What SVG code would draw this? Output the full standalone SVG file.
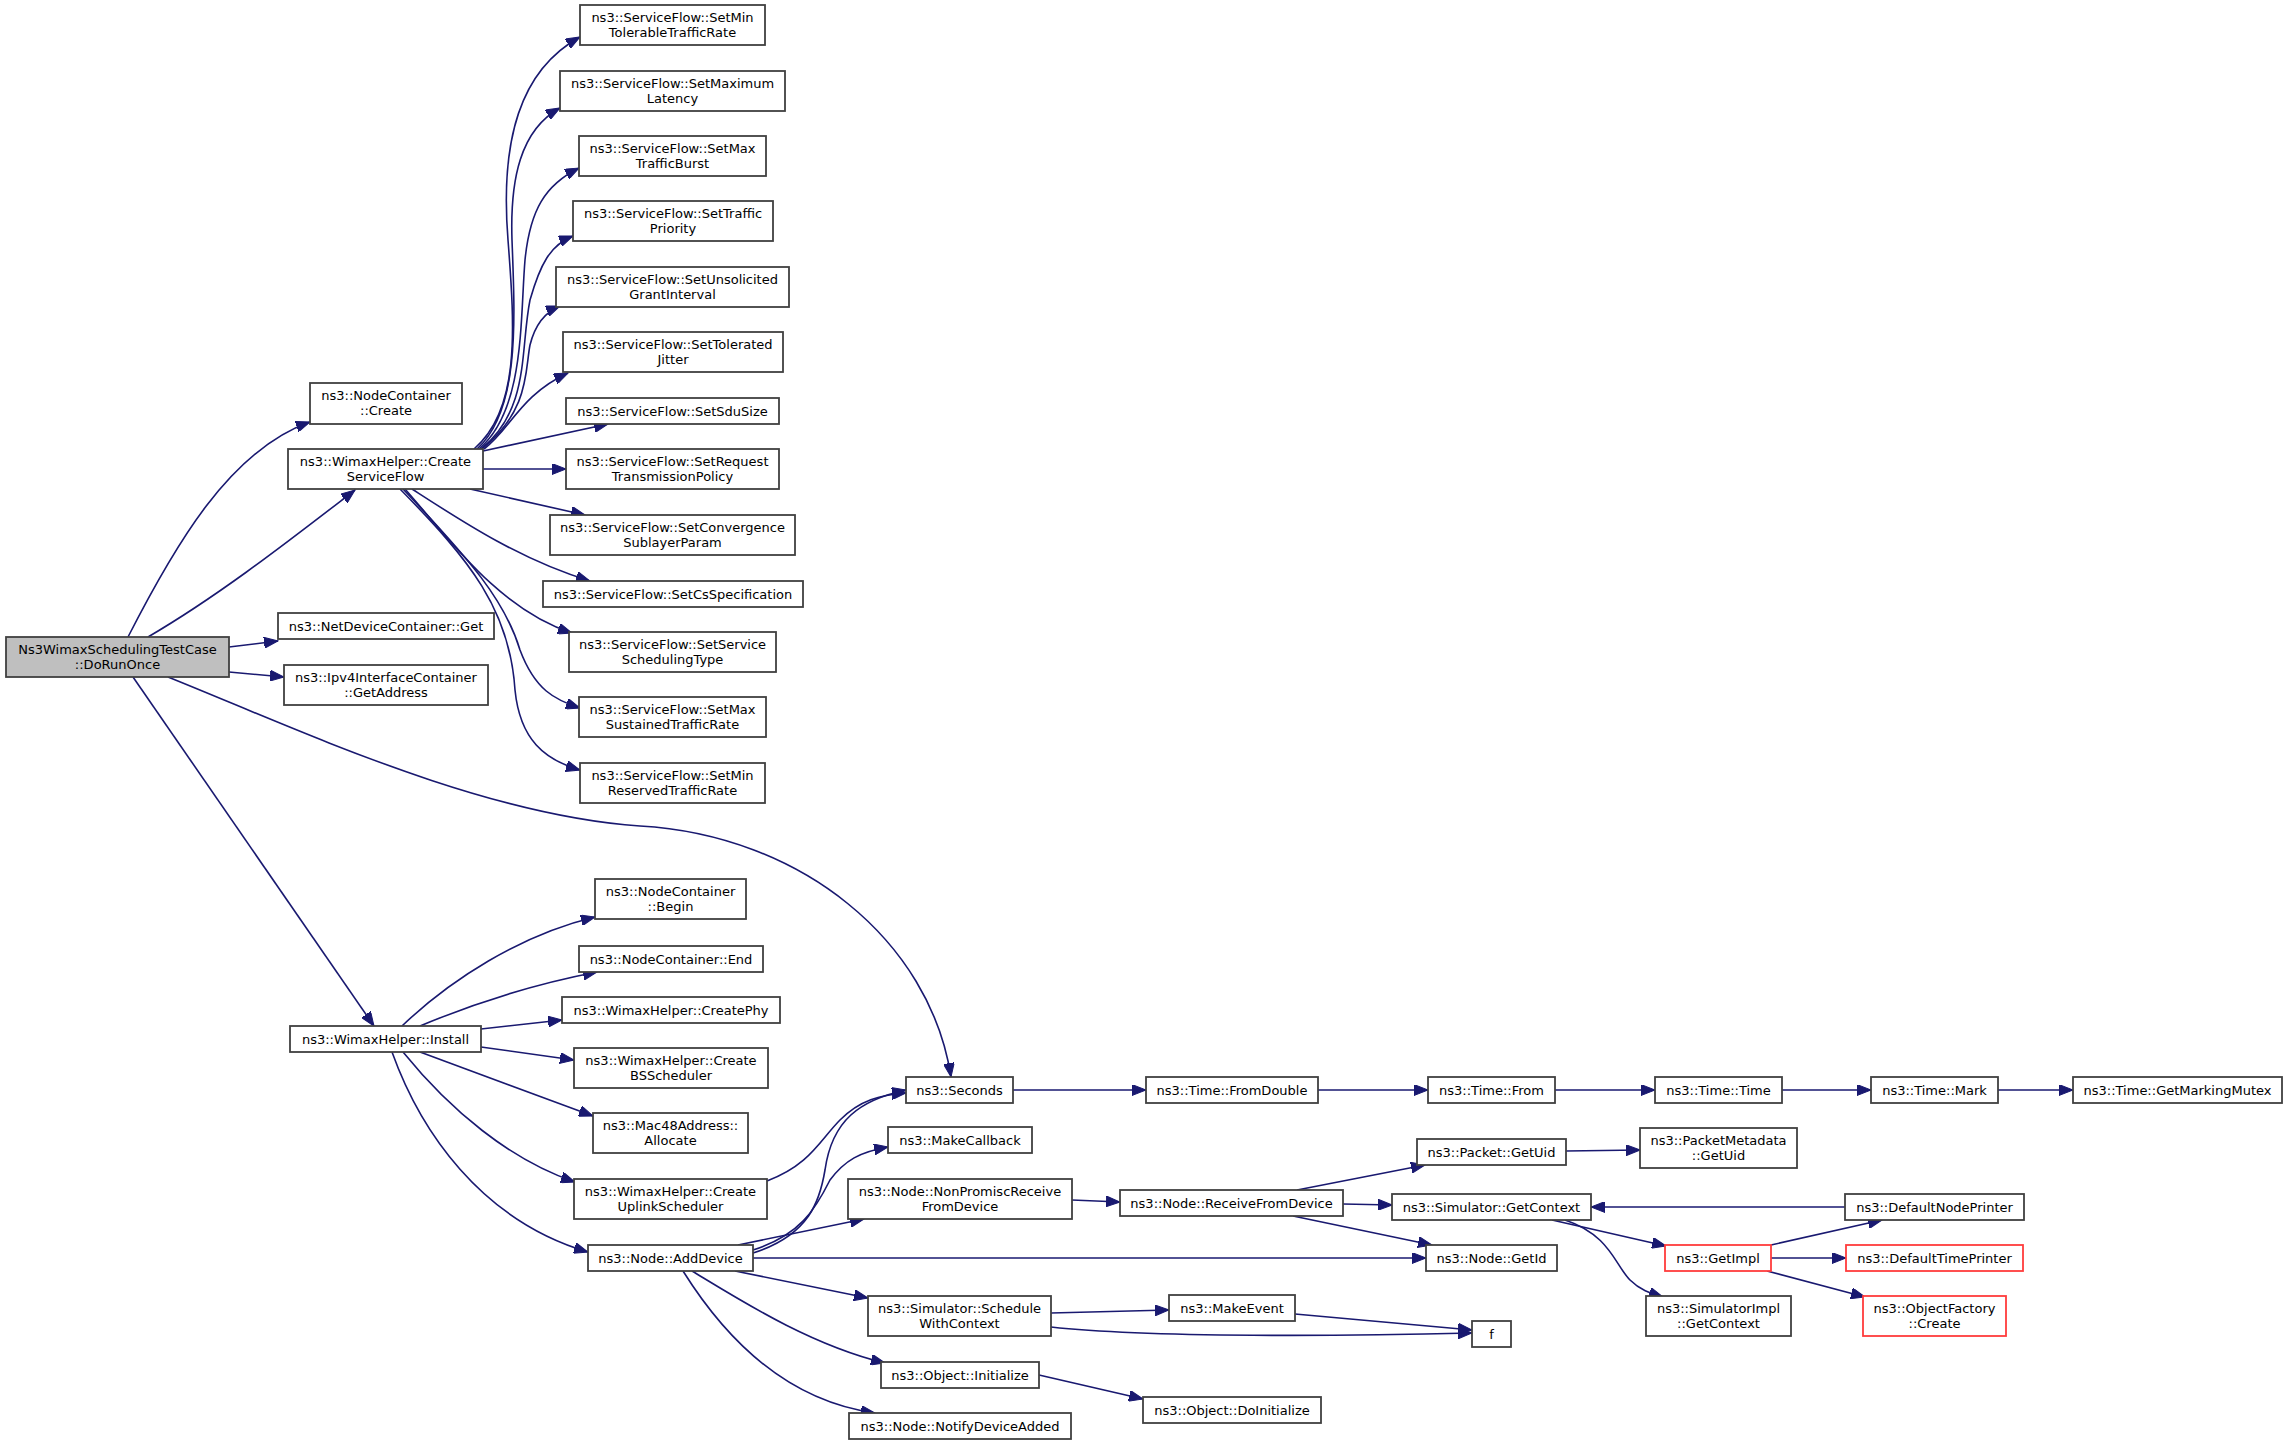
<svg xmlns="http://www.w3.org/2000/svg" width="2288" height="1444" viewBox="0 0 2288 1444">
<defs>
<style>
.n rect{fill:#ffffff;stroke:#404040;stroke-width:1.8}
.n.root rect{fill:#bfbfbf}
.n.red rect{stroke:#ff3c3c}
.n text{font-family:"DejaVu Sans","Liberation Sans",sans-serif;font-size:13px;text-anchor:middle;fill:#000}
#edges path{fill:none;stroke:#191970;stroke-width:1.6;marker-end:url(#arr)}
</style>
<marker id="arr" markerUnits="userSpaceOnUse" viewBox="0 0 15 11" markerWidth="15" markerHeight="11" refX="14" refY="5.5" orient="auto">
<path d="M0,0 L14,5.5 L0,11 z" fill="#191970" stroke="#191970" stroke-width="1"/>
</marker>
</defs>
<rect width="2288" height="1444" fill="#ffffff"/>
<g id="edges">
<path d="M128,637 C175,545 230,450 310,422"/>
<path d="M148,637 C220,595 290,540 355,490"/>
<path d="M229,647 L278,641"/>
<path d="M229,672 L284,677"/>
<path d="M168,677 C300,730 480,815 640,826 C800,835 930,940 951,1077"/>
<path d="M133,677 L374,1026"/>
<path d="M474,449 C520,410 515,330 508,240 C500,140 520,70 580,37"/>
<path d="M477,449 C520,410 515,320 512,240 C510,180 520,130 560,108"/>
<path d="M479,449 C525,410 520,320 525,260 C530,210 545,185 579,168"/>
<path d="M481,449 C530,410 520,350 530,300 C540,265 550,245 573,236"/>
<path d="M482,449 C530,410 525,370 530,345 C535,325 545,312 560,306"/>
<path d="M484,449 C510,430 520,395 568,373"/>
<path d="M483,451 L608,424"/>
<path d="M483,469 L566,469"/>
<path d="M470,489 L585,515"/>
<path d="M412,489 C460,520 520,560 590,581"/>
<path d="M405,489 C450,540 500,610 572,633"/>
<path d="M403,489 C470,560 505,600 520,650 C535,690 555,700 580,708"/>
<path d="M400,489 C470,560 510,610 515,690 C520,740 545,760 580,770"/>
<path d="M402,1026 C450,980 520,935 595,917"/>
<path d="M420,1026 C470,1005 530,985 597,972"/>
<path d="M481,1029 L562,1020"/>
<path d="M481,1047 L574,1060"/>
<path d="M420,1052 L593,1116"/>
<path d="M403,1052 C450,1110 510,1160 575,1182"/>
<path d="M392,1052 C420,1130 480,1220 588,1252"/>
<path d="M767,1181 C810,1165 820,1140 840,1120 C860,1100 880,1095 906,1093"/>
<path d="M753,1253 C810,1235 820,1200 825,1170 C832,1120 860,1100 906,1090"/>
<path d="M753,1250 C800,1235 815,1210 830,1180 C845,1160 860,1152 888,1147"/>
<path d="M738,1245 L864,1219"/>
<path d="M753,1258 L1426,1258"/>
<path d="M735,1271 L868,1298"/>
<path d="M692,1271 C740,1300 810,1345 885,1363"/>
<path d="M683,1271 C720,1330 780,1400 875,1413"/>
<path d="M1013,1090 L1146,1090"/>
<path d="M1318,1090 L1428,1090"/>
<path d="M1555,1090 L1655,1090"/>
<path d="M1782,1090 L1871,1090"/>
<path d="M1998,1090 L2073,1090"/>
<path d="M1072,1200 L1120,1202"/>
<path d="M1297,1190 L1425,1165"/>
<path d="M1343,1204 L1392,1205"/>
<path d="M1293,1216 L1432,1245"/>
<path d="M1566,1151 L1640,1150"/>
<path d="M1552,1220 L1666,1246"/>
<path d="M1565,1220 C1610,1235 1615,1265 1630,1280 C1640,1290 1650,1293 1663,1297"/>
<path d="M1845,1207 L1591,1207"/>
<path d="M1771,1245 L1882,1220"/>
<path d="M1771,1258 L1846,1258"/>
<path d="M1767,1271 L1865,1297"/>
<path d="M1051,1313 L1169,1310"/>
<path d="M1051,1327 C1150,1338 1350,1336 1472,1333"/>
<path d="M1295,1314 L1472,1330"/>
<path d="M1039,1375 L1143,1399"/>
</g>
<g id="n_root" class="n root"><rect x="6" y="637" width="223" height="40"/><text x="117.5" y="654">Ns3WimaxSchedulingTestCase</text><text x="117.5" y="669">::DoRunOnce</text></g>
<g id="n_nc_create" class="n"><rect x="310" y="383" width="152" height="41"/><text x="386" y="400">ns3::NodeContainer</text><text x="386" y="415">::Create</text></g>
<g id="n_csf" class="n"><rect x="288" y="449" width="195" height="40"/><text x="385.5" y="466">ns3::WimaxHelper::Create</text><text x="385.5" y="481">ServiceFlow</text></g>
<g id="n_ndc_get" class="n"><rect x="278" y="613" width="216" height="26"/><text x="386" y="630.5">ns3::NetDeviceContainer::Get</text></g>
<g id="n_ipv4" class="n"><rect x="284" y="665" width="204" height="40"/><text x="386" y="682">ns3::Ipv4InterfaceContainer</text><text x="386" y="697">::GetAddress</text></g>
<g id="n_install" class="n"><rect x="290" y="1026" width="191" height="26"/><text x="385.5" y="1043.5">ns3::WimaxHelper::Install</text></g>
<g id="n_seconds" class="n"><rect x="906" y="1077" width="107" height="26"/><text x="959.5" y="1094.5">ns3::Seconds</text></g>
<g id="n_s1" class="n"><rect x="580" y="5" width="185" height="40"/><text x="672.5" y="22">ns3::ServiceFlow::SetMin</text><text x="672.5" y="37">TolerableTrafficRate</text></g>
<g id="n_s2" class="n"><rect x="560" y="71" width="225" height="40"/><text x="672.5" y="88">ns3::ServiceFlow::SetMaximum</text><text x="672.5" y="103">Latency</text></g>
<g id="n_s3" class="n"><rect x="579" y="136" width="187" height="40"/><text x="672.5" y="153">ns3::ServiceFlow::SetMax</text><text x="672.5" y="168">TrafficBurst</text></g>
<g id="n_s4" class="n"><rect x="573" y="201" width="200" height="40"/><text x="673" y="218">ns3::ServiceFlow::SetTraffic</text><text x="673" y="233">Priority</text></g>
<g id="n_s5" class="n"><rect x="556" y="267" width="233" height="40"/><text x="672.5" y="284">ns3::ServiceFlow::SetUnsolicited</text><text x="672.5" y="299">GrantInterval</text></g>
<g id="n_s6" class="n"><rect x="563" y="332" width="220" height="40"/><text x="673" y="349">ns3::ServiceFlow::SetTolerated</text><text x="673" y="364">Jitter</text></g>
<g id="n_s7" class="n"><rect x="566" y="398" width="213" height="26"/><text x="672.5" y="415.5">ns3::ServiceFlow::SetSduSize</text></g>
<g id="n_s8" class="n"><rect x="566" y="449" width="213" height="40"/><text x="672.5" y="466">ns3::ServiceFlow::SetRequest</text><text x="672.5" y="481">TransmissionPolicy</text></g>
<g id="n_s9" class="n"><rect x="550" y="515" width="245" height="40"/><text x="672.5" y="532">ns3::ServiceFlow::SetConvergence</text><text x="672.5" y="547">SublayerParam</text></g>
<g id="n_s10" class="n"><rect x="543" y="581" width="260" height="26"/><text x="673" y="598.5">ns3::ServiceFlow::SetCsSpecification</text></g>
<g id="n_s11" class="n"><rect x="569" y="632" width="207" height="40"/><text x="672.5" y="649">ns3::ServiceFlow::SetService</text><text x="672.5" y="664">SchedulingType</text></g>
<g id="n_s12" class="n"><rect x="579" y="697" width="187" height="40"/><text x="672.5" y="714">ns3::ServiceFlow::SetMax</text><text x="672.5" y="729">SustainedTrafficRate</text></g>
<g id="n_s13" class="n"><rect x="580" y="763" width="185" height="40"/><text x="672.5" y="780">ns3::ServiceFlow::SetMin</text><text x="672.5" y="795">ReservedTrafficRate</text></g>
<g id="n_begin" class="n"><rect x="595" y="879" width="151" height="40"/><text x="670.5" y="896">ns3::NodeContainer</text><text x="670.5" y="911">::Begin</text></g>
<g id="n_end" class="n"><rect x="579" y="946" width="184" height="26"/><text x="671" y="963.5">ns3::NodeContainer::End</text></g>
<g id="n_phy" class="n"><rect x="562" y="997" width="218" height="26"/><text x="671" y="1014.5">ns3::WimaxHelper::CreatePhy</text></g>
<g id="n_bss" class="n"><rect x="574" y="1048" width="194" height="40"/><text x="671" y="1065">ns3::WimaxHelper::Create</text><text x="671" y="1080">BSScheduler</text></g>
<g id="n_mac" class="n"><rect x="593" y="1113" width="155" height="40"/><text x="670.5" y="1130">ns3::Mac48Address::</text><text x="670.5" y="1145">Allocate</text></g>
<g id="n_uls" class="n"><rect x="574" y="1179" width="193" height="40"/><text x="670.5" y="1196">ns3::WimaxHelper::Create</text><text x="670.5" y="1211">UplinkScheduler</text></g>
<g id="n_adddev" class="n"><rect x="588" y="1245" width="165" height="26"/><text x="670.5" y="1262.5">ns3::Node::AddDevice</text></g>
<g id="n_mkcb" class="n"><rect x="888" y="1127" width="144" height="26"/><text x="960" y="1144.5">ns3::MakeCallback</text></g>
<g id="n_nonprom" class="n"><rect x="848" y="1179" width="224" height="40"/><text x="960" y="1196">ns3::Node::NonPromiscReceive</text><text x="960" y="1211">FromDevice</text></g>
<g id="n_swc" class="n"><rect x="868" y="1296" width="183" height="40"/><text x="959.5" y="1313">ns3::Simulator::Schedule</text><text x="959.5" y="1328">WithContext</text></g>
<g id="n_init" class="n"><rect x="881" y="1362" width="158" height="26"/><text x="960" y="1379.5">ns3::Object::Initialize</text></g>
<g id="n_notify" class="n"><rect x="849" y="1413" width="222" height="26"/><text x="960" y="1430.5">ns3::Node::NotifyDeviceAdded</text></g>
<g id="n_fromdouble" class="n"><rect x="1146" y="1077" width="172" height="26"/><text x="1232" y="1094.5">ns3::Time::FromDouble</text></g>
<g id="n_recv" class="n"><rect x="1120" y="1190" width="223" height="26"/><text x="1231.5" y="1207.5">ns3::Node::ReceiveFromDevice</text></g>
<g id="n_mkevent" class="n"><rect x="1169" y="1295" width="126" height="26"/><text x="1232" y="1312.5">ns3::MakeEvent</text></g>
<g id="n_doinit" class="n"><rect x="1143" y="1397" width="178" height="26"/><text x="1232" y="1414.5">ns3::Object::DoInitialize</text></g>
<g id="n_from" class="n"><rect x="1428" y="1077" width="127" height="26"/><text x="1491.5" y="1094.5">ns3::Time::From</text></g>
<g id="n_pktuid" class="n"><rect x="1417" y="1139" width="149" height="26"/><text x="1491.5" y="1156.5">ns3::Packet::GetUid</text></g>
<g id="n_simctx" class="n"><rect x="1392" y="1194" width="199" height="26"/><text x="1491.5" y="1211.5">ns3::Simulator::GetContext</text></g>
<g id="n_getid" class="n"><rect x="1426" y="1245" width="131" height="26"/><text x="1491.5" y="1262.5">ns3::Node::GetId</text></g>
<g id="n_f" class="n"><rect x="1472" y="1321" width="39" height="26"/><text x="1491.5" y="1338.5">f</text></g>
<g id="n_time" class="n"><rect x="1655" y="1077" width="127" height="26"/><text x="1718.5" y="1094.5">ns3::Time::Time</text></g>
<g id="n_pmuid" class="n"><rect x="1640" y="1128" width="157" height="40"/><text x="1718.5" y="1145">ns3::PacketMetadata</text><text x="1718.5" y="1160">::GetUid</text></g>
<g id="n_getimpl" class="n red"><rect x="1665" y="1245" width="106" height="26"/><text x="1718" y="1262.5">ns3::GetImpl</text></g>
<g id="n_simimpl" class="n"><rect x="1646" y="1296" width="145" height="40"/><text x="1718.5" y="1313">ns3::SimulatorImpl</text><text x="1718.5" y="1328">::GetContext</text></g>
<g id="n_mark" class="n"><rect x="1871" y="1077" width="127" height="26"/><text x="1934.5" y="1094.5">ns3::Time::Mark</text></g>
<g id="n_dnp" class="n"><rect x="1845" y="1194" width="179" height="26"/><text x="1934.5" y="1211.5">ns3::DefaultNodePrinter</text></g>
<g id="n_dtp" class="n red"><rect x="1846" y="1245" width="177" height="26"/><text x="1934.5" y="1262.5">ns3::DefaultTimePrinter</text></g>
<g id="n_ofc" class="n red"><rect x="1863" y="1296" width="143" height="40"/><text x="1934.5" y="1313">ns3::ObjectFactory</text><text x="1934.5" y="1328">::Create</text></g>
<g id="n_mutex" class="n"><rect x="2073" y="1077" width="209" height="26"/><text x="2177.5" y="1094.5">ns3::Time::GetMarkingMutex</text></g>
</svg>
